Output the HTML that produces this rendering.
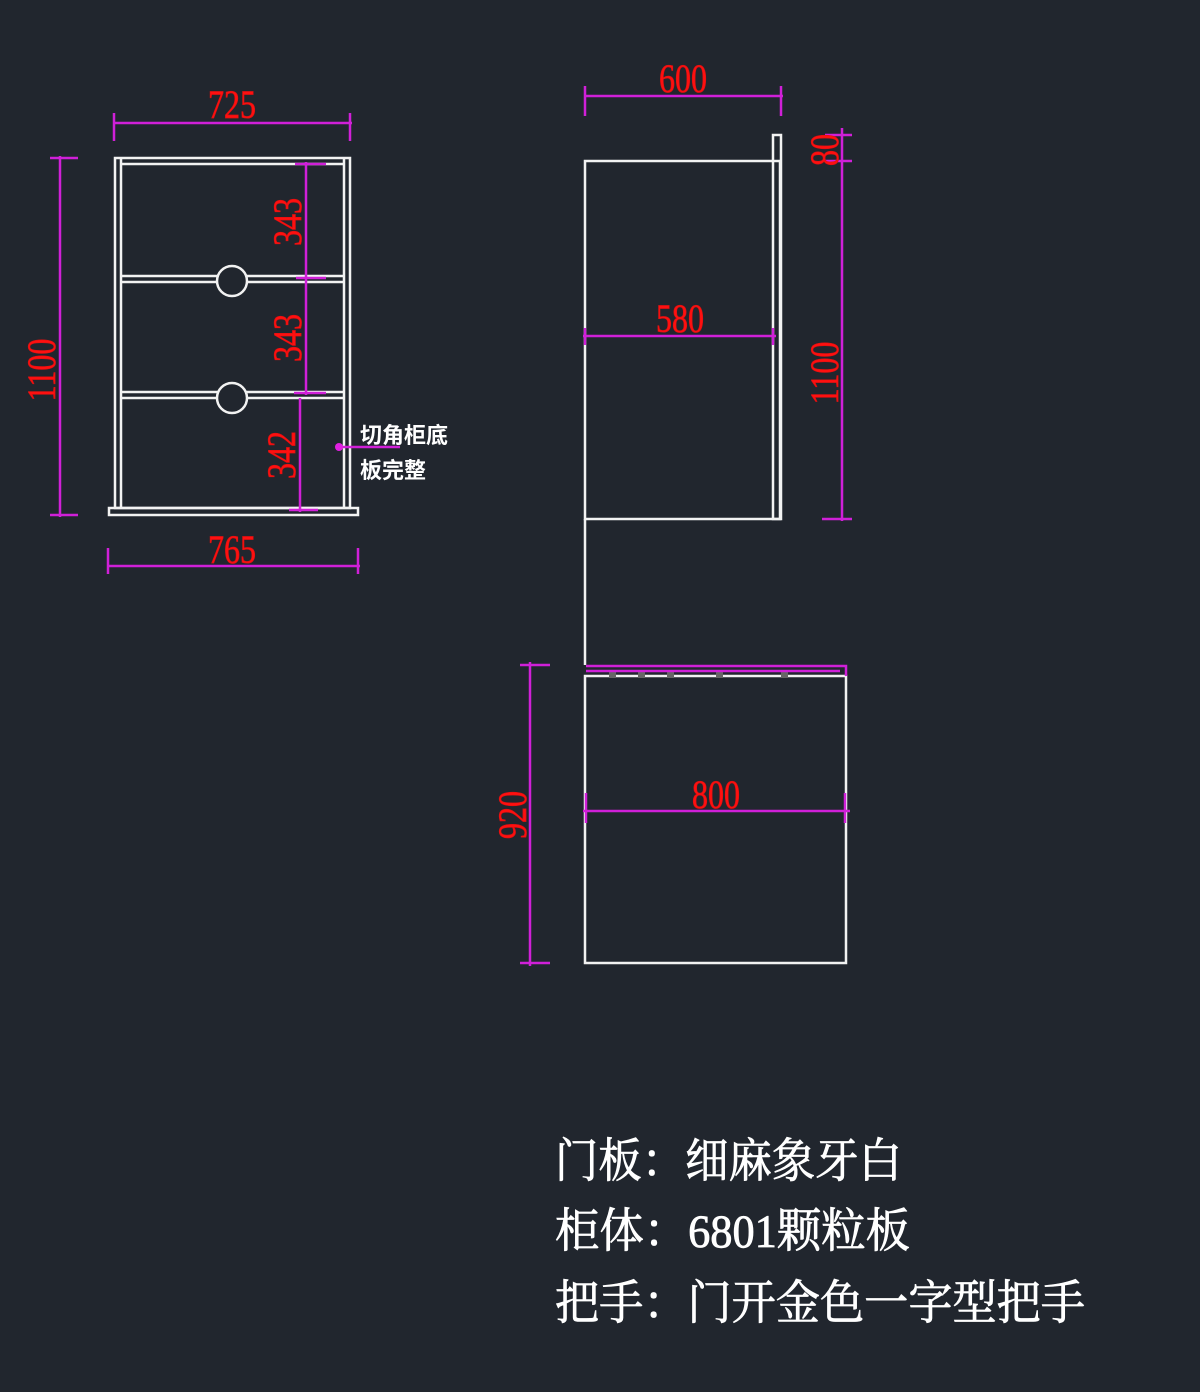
<!DOCTYPE html>
<html><head><meta charset="utf-8"><style>
html,body{margin:0;padding:0;background:#21262e;}
svg{display:block}
.d{font-family:"Liberation Serif",serif;fill:#ff1010;stroke:#e01010;stroke-width:0.8;font-size:40px;}
</style></head><body>
<svg width="1200" height="1392" viewBox="0 0 1200 1392" xmlns="http://www.w3.org/2000/svg">
<rect width="1200" height="1392" fill="#21262e"/>
<g fill="none" stroke="#f2f2f2" stroke-width="2.5">
<rect x="115" y="158" width="235" height="350"/>
<line x1="121" y1="158" x2="121" y2="508"/>
<line x1="344" y1="158" x2="344" y2="508"/>
<line x1="121" y1="164" x2="344" y2="164"/>
<line x1="121" y1="276" x2="344" y2="276"/>
<line x1="121" y1="282" x2="344" y2="282"/>
<line x1="121" y1="392" x2="344" y2="392"/>
<line x1="121" y1="398" x2="344" y2="398"/>
<rect x="109" y="508" width="249" height="7"/>
<circle cx="232" cy="281" r="15" fill="#21262e"/>
<circle cx="232" cy="398" r="15" fill="#21262e"/>
<rect x="585" y="161" width="195" height="358"/>
<rect x="773" y="135" width="8" height="384"/>
<line x1="585" y1="519" x2="585" y2="665"/>
<rect x="585" y="676" width="261" height="287"/>
</g>
<g fill="#666">
<rect x="609" y="670" width="7" height="8"/><rect x="638" y="670" width="7" height="8"/><rect x="667" y="670" width="7" height="8"/><rect x="716" y="670" width="7" height="8"/><rect x="781" y="670" width="7" height="8"/>
</g>
<g fill="none" stroke="#d020d8" stroke-width="2.5">
<polyline points="586,666 846,666 846,676"/>
<line x1="586" y1="671" x2="840" y2="671"/>
<line x1="114" y1="123" x2="352" y2="123"/><line x1="114" y1="113" x2="114" y2="141"/><line x1="350" y1="113" x2="350" y2="141"/>
<line x1="60" y1="156" x2="60" y2="517"/><line x1="50" y1="158" x2="78" y2="158"/><line x1="50" y1="515" x2="78" y2="515"/>
<line x1="306" y1="162" x2="306" y2="395"/><line x1="300" y1="398" x2="300" y2="512"/>
<line x1="295" y1="164" x2="326" y2="164"/><line x1="296" y1="278" x2="326" y2="278"/><line x1="294" y1="393" x2="326" y2="393"/><line x1="289" y1="510" x2="318" y2="510"/>
<line x1="108" y1="566" x2="360" y2="566"/><line x1="108" y1="548" x2="108" y2="574"/><line x1="358" y1="548" x2="358" y2="574"/>
<line x1="338" y1="447" x2="400" y2="447"/>
<line x1="585" y1="96" x2="783" y2="96"/><line x1="585" y1="86" x2="585" y2="116"/><line x1="781" y1="86" x2="781" y2="116"/>
<line x1="842" y1="128" x2="842" y2="521"/><line x1="825" y1="135" x2="852" y2="135"/><line x1="825" y1="161" x2="852" y2="161"/><line x1="822" y1="519" x2="852" y2="519"/>
<line x1="583" y1="336" x2="776" y2="336"/><line x1="585" y1="328" x2="585" y2="345"/><line x1="773" y1="328" x2="773" y2="345"/>
<line x1="583" y1="811" x2="850" y2="811"/><line x1="586" y1="793" x2="586" y2="823"/><line x1="845" y1="793" x2="845" y2="823"/>
<line x1="530" y1="662" x2="530" y2="966"/><line x1="520" y1="665" x2="550" y2="665"/><line x1="520" y1="963" x2="550" y2="963"/>
</g>
<circle cx="339" cy="447" r="4" fill="#e020e0"/>
<g class="d">
<text transform="translate(232,118) scale(0.8,1)" text-anchor="middle">725</text>
<text transform="translate(232,563) scale(0.8,1)" text-anchor="middle">765</text>
<text transform="translate(683,92) scale(0.8,1)" text-anchor="middle">600</text>
<text transform="translate(680,332) scale(0.8,1)" text-anchor="middle">580</text>
<text transform="translate(716,808) scale(0.8,1)" text-anchor="middle">800</text>
<text transform="translate(55,370) rotate(-90) scale(0.8,1)" text-anchor="middle">1100</text>
<text transform="translate(301,222) rotate(-90) scale(0.8,1)" text-anchor="middle">343</text>
<text transform="translate(301,338) rotate(-90) scale(0.8,1)" text-anchor="middle">343</text>
<text transform="translate(295,455) rotate(-90) scale(0.8,1)" text-anchor="middle">342</text>
<text transform="translate(838,150) rotate(-90) scale(0.8,1)" text-anchor="middle">80</text>
<text transform="translate(838,373) rotate(-90) scale(0.8,1)" text-anchor="middle">1100</text>
<text transform="translate(526,815) rotate(-90) scale(0.8,1)" text-anchor="middle">920</text>
</g>
<g fill="#ffffff" font-family="'Liberation Sans','Noto Sans CJK SC',sans-serif" font-weight="bold" font-size="22">
<text x="360" y="443" textLength="88" lengthAdjust="spacingAndGlyphs">切角柜底</text>
<text x="360" y="478" textLength="66" lengthAdjust="spacingAndGlyphs">板完整</text>
</g>
<g fill="#ffffff" stroke="#ffffff" stroke-width="0.8" font-family="'Liberation Serif','Noto Serif CJK SC',serif" font-size="47">
<text x="555" y="1177" textLength="347" lengthAdjust="spacingAndGlyphs">门板：细麻象牙白</text>
<text x="555" y="1247" textLength="355" lengthAdjust="spacingAndGlyphs">柜体：6801颗粒板</text>
<text x="555" y="1319" textLength="530" lengthAdjust="spacingAndGlyphs">把手：门开金色一字型把手</text>
</g>
</svg>
</body></html>
